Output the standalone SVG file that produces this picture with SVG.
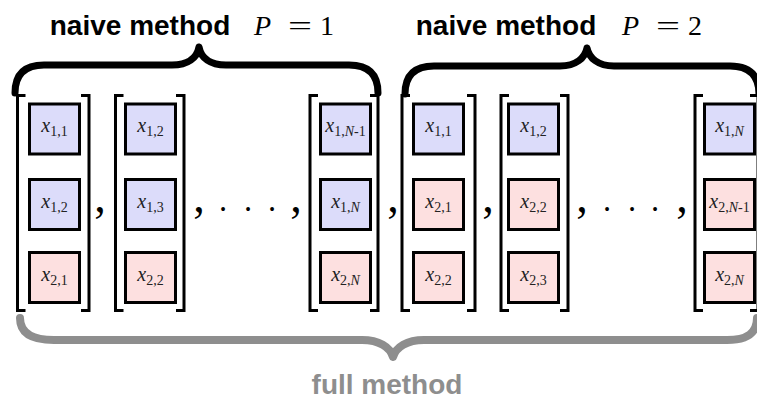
<svg xmlns="http://www.w3.org/2000/svg" width="757" height="400" viewBox="0 0 757 400">
  <style>
    .title { font-family: "Liberation Sans", Arial, sans-serif; font-weight: bold; font-size: 28px; fill: #000; text-anchor: middle; }
    .math { font-family: "Liberation Serif", "Times New Roman", serif; font-size: 28px; fill: #000; }
    .mi { font-style: italic; }
    .full { font-family: "Liberation Sans", Arial, sans-serif; font-weight: bold; font-size: 28px; fill: #8e8e8e; text-anchor: middle; }
    .box { stroke: #000; stroke-width: 3; }
    .blue { fill: #dcdcfa; }
    .pink { fill: #fde0e0; }
    .lbl { font-family: "Liberation Serif", "Times New Roman", serif; font-size: 20px; fill: #222; text-anchor: middle; }
    .lbl .v { font-style: italic; }
    .lbl .s { font-size: 14px; }
    .bracket { fill: none; stroke: #000; stroke-width: 3; }
    .sep { font-family: "Liberation Serif", "Times New Roman", serif; font-size: 46px; fill: #000; text-anchor: middle; }
    .dot { font-family: "Liberation Serif", "Times New Roman", serif; font-size: 16px; fill: #000; text-anchor: middle; }
    .brace { fill: none; stroke: #000; stroke-width: 7; stroke-linecap: round; stroke-linejoin: round; }
    .brace-gray { fill: none; stroke: #8e8e8e; stroke-width: 8; stroke-linecap: round; stroke-linejoin: round; }
  </style>

  <!-- titles -->
  <g id="title-p1">
    <text class="title" x="140" y="35">naive method</text>
    <text class="math mi" x="254" y="35">P</text>
    <text class="math" x="288" y="35" textLength="24" lengthAdjust="spacingAndGlyphs">=</text>
    <text class="math" x="320" y="35">1</text>
  </g>
  <g id="title-p2">
    <text class="title" x="506" y="35">naive method</text>
    <text class="math mi" x="622" y="35">P</text>
    <text class="math" x="656" y="35" textLength="24" lengthAdjust="spacingAndGlyphs">=</text>
    <text class="math" x="688" y="35">2</text>
  </g>
  <g id="title-full">
    <text class="full" x="387" y="394">full method</text>
  </g>

  <!-- braces -->
  <g id="connectors">
    <path class="brace" d="M15,93 C15,75 24,65 44,65 L172,65 C188,65 197,58 199,47 C201,58 210,65 226,65 L349,65 C369,65 378,75 378,93"/>
    <path class="brace" d="M405,94 C405,76 414,66 434,66 L560,66 C576,66 585,58 587,48 C589,58 598,66 614,66 L730,66 C750,66 759,76 759,94"/>
    <path class="brace-gray" d="M20,318 C20,333 32,340 54,340 L362,340 C379,340 390,347 393,357 C396,347 407,340 424,340 L727,340 C747,340 757,333 757,318"/>
  </g>

  <!-- vector 1 -->
  <g id="vec1">
    <path class="bracket" d="M25.5,95.5 H17.5 V310.5 H25.5 M81,95.5 H89 V310.5 H81"/>
    <g id="v1-r1"><rect class="box blue" x="29.5" y="104" width="50" height="50"/><text class="lbl" x="54.5" y="132"><tspan class="v">x</tspan><tspan class="s" dy="4">1,1</tspan></text></g>
    <g id="v1-r2"><rect class="box blue" x="29.5" y="179.5" width="50" height="50"/><text class="lbl" x="54.5" y="207.5"><tspan class="v">x</tspan><tspan class="s" dy="4">1,2</tspan></text></g>
    <g id="v1-r3"><rect class="box pink" x="29.5" y="252.5" width="50" height="50"/><text class="lbl" x="54.5" y="280.5"><tspan class="v">x</tspan><tspan class="s" dy="4">2,1</tspan></text></g>
  </g>

  <!-- vector 2 -->
  <g id="vec2">
    <path class="bracket" d="M123.5,95.5 H115.5 V310.5 H123.5 M176,95.5 H184 V310.5 H176"/>
    <g id="v2-r1"><rect class="box blue" x="125.5" y="104" width="50" height="50"/><text class="lbl" x="150.5" y="132"><tspan class="v">x</tspan><tspan class="s" dy="4">1,2</tspan></text></g>
    <g id="v2-r2"><rect class="box blue" x="125.5" y="179.5" width="50" height="50"/><text class="lbl" x="150.5" y="207.5"><tspan class="v">x</tspan><tspan class="s" dy="4">1,3</tspan></text></g>
    <g id="v2-r3"><rect class="box pink" x="125.5" y="252.5" width="50" height="50"/><text class="lbl" x="150.5" y="280.5"><tspan class="v">x</tspan><tspan class="s" dy="4">2,2</tspan></text></g>
  </g>

  <!-- vector 3 -->
  <g id="vec3">
    <path class="bracket" d="M318,95.5 H310 V310.5 H318 M370,95.5 H378 V310.5 H370"/>
    <g id="v3-r1"><rect class="box blue" x="320.5" y="104" width="50" height="50"/><text class="lbl" x="345.5" y="132"><tspan class="v">x</tspan><tspan class="s" dy="4">1,<tspan class="v">N</tspan>-1</tspan></text></g>
    <g id="v3-r2"><rect class="box blue" x="320.5" y="179.5" width="50" height="50"/><text class="lbl" x="345.5" y="207.5"><tspan class="v">x</tspan><tspan class="s" dy="4">1,<tspan class="v">N</tspan></tspan></text></g>
    <g id="v3-r3"><rect class="box pink" x="320.5" y="252.5" width="50" height="50"/><text class="lbl" x="345.5" y="280.5"><tspan class="v">x</tspan><tspan class="s" dy="4">2,<tspan class="v">N</tspan></tspan></text></g>
  </g>

  <!-- vector 4 -->
  <g id="vec4">
    <path class="bracket" d="M410,95.5 H402 V310.5 H410 M467,95.5 H475 V310.5 H467"/>
    <g id="v4-r1"><rect class="box blue" x="413.5" y="104" width="50" height="50"/><text class="lbl" x="438.5" y="132"><tspan class="v">x</tspan><tspan class="s" dy="4">1,1</tspan></text></g>
    <g id="v4-r2"><rect class="box pink" x="413.5" y="179.5" width="50" height="50"/><text class="lbl" x="438.5" y="207.5"><tspan class="v">x</tspan><tspan class="s" dy="4">2,1</tspan></text></g>
    <g id="v4-r3"><rect class="box pink" x="413.5" y="252.5" width="50" height="50"/><text class="lbl" x="438.5" y="280.5"><tspan class="v">x</tspan><tspan class="s" dy="4">2,2</tspan></text></g>
  </g>

  <!-- vector 5 -->
  <g id="vec5">
    <path class="bracket" d="M509,95.5 H501 V310.5 H509 M560,95.5 H568 V310.5 H560"/>
    <g id="v5-r1"><rect class="box blue" x="508.5" y="104" width="50" height="50"/><text class="lbl" x="533.5" y="132"><tspan class="v">x</tspan><tspan class="s" dy="4">1,2</tspan></text></g>
    <g id="v5-r2"><rect class="box pink" x="508.5" y="179.5" width="50" height="50"/><text class="lbl" x="533.5" y="207.5"><tspan class="v">x</tspan><tspan class="s" dy="4">2,2</tspan></text></g>
    <g id="v5-r3"><rect class="box pink" x="508.5" y="252.5" width="50" height="50"/><text class="lbl" x="533.5" y="280.5"><tspan class="v">x</tspan><tspan class="s" dy="4">2,3</tspan></text></g>
  </g>

  <!-- vector 6 -->
  <g id="vec6">
    <path class="bracket" d="M703,95.5 H695 V310.5 H703 M750,95.5 H758 V310.5 H750"/>
    <g id="v6-r1"><rect class="box blue" x="704.5" y="104" width="50" height="50"/><text class="lbl" x="729.5" y="132"><tspan class="v">x</tspan><tspan class="s" dy="4">1,<tspan class="v">N</tspan></tspan></text></g>
    <g id="v6-r2"><rect class="box pink" x="704.5" y="179.5" width="50" height="50"/><text class="lbl" x="729.5" y="207.5"><tspan class="v">x</tspan><tspan class="s" dy="4">2,<tspan class="v">N</tspan>-1</tspan></text></g>
    <g id="v6-r3"><rect class="box pink" x="704.5" y="252.5" width="50" height="50"/><text class="lbl" x="729.5" y="280.5"><tspan class="v">x</tspan><tspan class="s" dy="4">2,<tspan class="v">N</tspan></tspan></text></g>
  </g>

  <!-- separators -->
  <g id="separators">
    <text class="sep" x="100" y="212">,</text>
    <text class="sep" x="199" y="212">,</text>
    <text class="dot" x="223" y="215">•</text>
    <text class="dot" x="248" y="215">•</text>
    <text class="dot" x="272" y="215">•</text>
    <text class="sep" x="296" y="212">,</text>
    <text class="sep" x="393" y="212">,</text>
    <text class="sep" x="488" y="212">,</text>
    <text class="sep" x="582" y="212">,</text>
    <text class="dot" x="607" y="215">•</text>
    <text class="dot" x="632" y="215">•</text>
    <text class="dot" x="655" y="215">•</text>
    <text class="sep" x="682" y="212">,</text>
  </g>
</svg>
